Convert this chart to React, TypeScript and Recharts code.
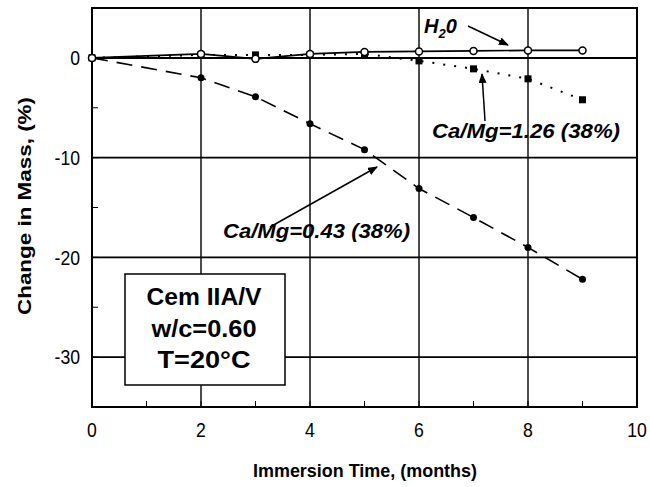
import React from "react";
import {
  LineChart,
  Line,
  XAxis,
  YAxis,
  ReferenceLine,
  ReferenceArea,
} from "recharts";

// immersion time (months) and change in mass (%)
const months = [0, 2, 3, 4, 5, 6, 7, 8, 9];
const massH2O = [0, 0.4, -0.1, 0.4, 0.6, 0.65, 0.7, 0.75, 0.75];
const mass126 = [0, 0.3, 0.3, 0.3, 0.4, -0.3, -1.1, -2.1, -4.2];
const mass043 = [0, -2.0, -3.9, -6.6, -9.2, -13.1, -16.0, -19.0, -22.2];

const xTicks = [0, 1, 2, 3, 4, 5, 6, 7, 8, 9, 10];
const yTicks = [-35, -30, -25, -20, -15, -10, -5, 0, 5];
const xGrid = [2, 4, 6, 8];
const yGrid = [-30, -20, -10];

const data = months.map((m, i) => ({
  month: m,
  h2o: massH2O[i],
  r126: mass126[i],
  r043: mass043[i],
}));

const FONT = "'Liberation Sans', Arial, sans-serif";

// narrow-looking tick labels, like the original plot's Helvetica Narrow
const NarrowTick = (props: any) => {
  const { x, y, payload, textAnchor, step } = props;
  const v = payload.value;
  if (v % step !== 0) return null;
  return (
    <text
      transform={`translate(${x},${y}) scale(0.84,1)`}
      textAnchor={textAnchor}
      dy={textAnchor === "middle" ? "0.75em" : "0.35em"}
      fontFamily={FONT}
      fontSize={21}
      fill="#000"
    >
      {v}
    </text>
  );
};

const OpenCircle = (props: any) => {
  const { cx, cy, index } = props;
  return <circle key={`o-${index}`} cx={cx} cy={cy} r={3.5} fill="#fff" stroke="#000" strokeWidth={1.5} />;
};
const FilledSquare = (props: any) => {
  const { cx, cy, index } = props;
  return <rect key={`s-${index}`} x={cx - 3.5} y={cy - 3.5} width={7} height={7} fill="#000" />;
};
const FilledCircle = (props: any) => {
  const { cx, cy, index } = props;
  return <circle key={`c-${index}`} cx={cx} cy={cy} r={3.5} fill="#000" />;
};

const App: React.FC = () => {
  return (
    <div style={{ position: "absolute", left: 0, top: 0, width: 650, height: 487, background: "#fff" }}>
      <LineChart width={650} height={487} data={data} margin={{ top: 8, right: 13, bottom: 0, left: 0 }}>
        <XAxis
          dataKey="month"
          type="number"
          domain={[0, 10]}
          ticks={xTicks}
          interval={0}
          height={80}
          axisLine={false}
          tickSize={-6}
          tickMargin={20}
          tickLine={{ stroke: "#000" }}
          tick={<NarrowTick step={2} />}
        />
        <YAxis
          type="number"
          domain={[-35, 5]}
          ticks={yTicks}
          interval={0}
          width={92}
          axisLine={false}
          tickSize={-6}
          tickMargin={18}
          tickLine={{ stroke: "#000" }}
          tick={<NarrowTick step={10} />}
        />
        {xGrid.map((x) => (
          <ReferenceLine key={`gx-${x}`} x={x} stroke="#000" strokeWidth={1.4} />
        ))}
        {yGrid.map((y) => (
          <ReferenceLine key={`gy-${y}`} y={y} stroke="#000" strokeWidth={1.6} />
        ))}
        <ReferenceLine y={0} stroke="#000" strokeWidth={2} />
        <ReferenceArea x1={0} x2={10} y1={-35} y2={5} fill="none" stroke="#000" strokeWidth={2} fillOpacity={0} />
        <Line
          dataKey="r043"
          stroke="#000"
          strokeWidth={1.6}
          strokeDasharray="16 9"
          dot={FilledCircle}
          isAnimationActive={false}
        />
        <Line
          dataKey="r126"
          stroke="#000"
          strokeWidth={2}
          strokeDasharray="2 9"
          dot={FilledSquare}
          isAnimationActive={false}
        />
        <Line
          dataKey="h2o"
          stroke="#000"
          strokeWidth={1.6}
          dot={OpenCircle}
          isAnimationActive={false}
        />
      </LineChart>

      {/* annotations, axis titles and the info box */}
      <svg
        width={650}
        height={487}
        style={{ position: "absolute", left: 0, top: 0, pointerEvents: "none" }}
      >
        <defs>
          <marker id="arr" markerWidth="10" markerHeight="8" refX="9" refY="4" orient="auto" markerUnits="userSpaceOnUse">
            <path d="M0,0 L10,4 L0,8 z" fill="#000" />
          </marker>
        </defs>

        <text x={424} y={33} fontFamily={FONT} fontSize={20} fontWeight="bold" fontStyle="italic" fill="#000">
          H<tspan fontSize={13} dy={5}>2</tspan>
          <tspan dy={-5}>0</tspan>
        </text>
        <line x1={468} y1={26} x2={508} y2={45} stroke="#000" strokeWidth={1.5} markerEnd="url(#arr)" />

        <text x={432} y={138} textLength={188} lengthAdjust="spacingAndGlyphs" fontFamily={FONT} fontSize={20} fontWeight="bold" fontStyle="italic" fill="#000">
          Ca/Mg=1.26 (38%)
        </text>
        <line x1={485} y1={121} x2={482} y2={74} stroke="#000" strokeWidth={1.5} markerEnd="url(#arr)" />

        <text x={223} y={238} textLength={187} lengthAdjust="spacingAndGlyphs" fontFamily={FONT} fontSize={20} fontWeight="bold" fontStyle="italic" fill="#000">
          Ca/Mg=0.43 (38%)
        </text>
        <line x1={270} y1={227} x2={377} y2={167} stroke="#000" strokeWidth={1.5} markerEnd="url(#arr)" />

        <rect x={125} y={274} width={160} height={111} fill="#fff" stroke="#000" strokeWidth={1.5} />
        <g fontFamily={FONT} fontSize={23} fontWeight="bold" fill="#000" textAnchor="middle">
          <text x={204} y={305} textLength={115} lengthAdjust="spacingAndGlyphs">Cem IIA/V</text>
          <text x={204} y={337} textLength={105} lengthAdjust="spacingAndGlyphs">w/c=0.60</text>
          <text x={204} y={368} textLength={93} lengthAdjust="spacingAndGlyphs">T=20°C</text>
        </g>

        <text
          x={0}
          y={0}
          transform="translate(31,206) rotate(-90)"
          textAnchor="middle"
          textLength={218}
          lengthAdjust="spacingAndGlyphs"
          fontFamily={FONT}
          fontSize={19}
          fontWeight="bold"
          fill="#000"
        >
          Change in Mass, (%)
        </text>
        <text x={365} y={477} textAnchor="middle" textLength={224} lengthAdjust="spacingAndGlyphs" fontFamily={FONT} fontSize={19} fontWeight="bold" fill="#000">
          Immersion Time, (months)
        </text>
      </svg>
    </div>
  );
};

export default App;
